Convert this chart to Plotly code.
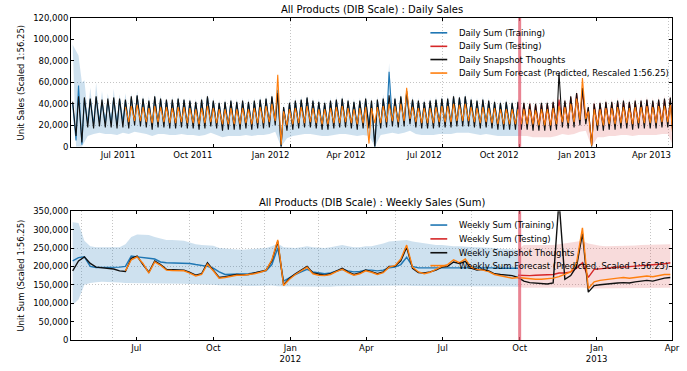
import pandas as pd
import plotly.graph_objects as go

# ---------------- texts / axes ----------------
first_saturday = "2011-04-16"
split_date = "2012-10-01"
split_week = 76
forecast_first_week = 9
x_start, x_end = "2011-04-14", "2013-04-01"

top_title = "All Products (DIB Scale) : Daily Sales"
bottom_title = "All Products (DIB Scale) : Weekly Sales (Sum)"
top_ytitle = "Unit Sales (Scaled 1:56.25)"
bottom_ytitle = "Unit Sum (Scaled 1:56.25)"
daily_names = ["Daily Sum (Training)", "Daily Sum (Testing)", "Daily Snapshot Thoughts",
               "Daily Sum Forecast (Predicted, Rescaled 1:56.25)"]
weekly_names = ["Weekly Sum (Training)", "Weekly Sum (Testing)", "Weekly Snapshot Thoughts",
                "Weekly Sum Forecast (Predicted, Scaled 1:56.25)"]

tick_dates = ["2011-07-01", "2011-10-01", "2012-01-01", "2012-04-01",
              "2012-07-01", "2012-10-01", "2013-01-01", "2013-04-01"]
top_tick_text = ["Jul 2011", "Oct 2011", "Jan 2012", "Apr 2012",
                 "Jul 2012", "Oct 2012", "Jan 2013", "Apr 2013"]
bottom_tick_text = ["Jul", "Oct", "Jan<br>2012", "Apr", "Jul", "Oct", "Jan<br>2013", "Apr"]
top_y_ticks = [0, 20000, 40000, 60000, 80000, 100000, 120000]
bottom_y_ticks = [0, 50000, 100000, 150000, 200000, 250000, 300000, 350000]
top_grid_dates = ["2012-01-01", "2012-07-01", "2013-03-28"]
bottom_grid_dates = ["2011-04-27", "2011-06-02", "2011-09-02", "2011-11-04", "2011-12-01",
                     "2012-02-04", "2012-05-06", "2012-08-05", "2013-03-06"]
top_grid_y = [20000, 40000, 60000]
bottom_grid_y = [150000, 200000, 250000]

# ---------------- daily data (thousands; weekly peak on Sat, trough on Wed) ----------------
daily_actual_peak = [
    40, 57, 45, 44, 46, 42, 43, 45, 44, 43,
    45, 47, 44, 42, 46, 44, 43, 42, 44, 43,
    42, 41, 43, 46, 42, 40, 41, 42, 41, 42,
    41, 42, 43, 44, 46, 53, 36, 40, 42, 43,
    45, 42, 41, 40, 42, 43, 44, 42, 41, 42,
    44, 42, 43, 44, 70, 44, 46, 50, 43, 42,
    41, 42, 43, 44, 44, 46, 45, 46, 43, 42,
    43, 42, 41, 40, 41, 40, 41, 40, 40, 39,
    40, 40, 41, 44, 42, 46, 50, 52, 36, 40,
    40, 41, 41, 42, 42, 41, 42, 42, 43, 42,
    43, 44, 45]
daily_actual_trough = [
    6, 2, 22, 21, 23, 22, 22, 21, 23, 22,
    24, 23, 22, 20, 22, 22, 21, 21, 22, 21,
    21, 20, 21, 23, 21, 19, 20, 20, 20, 21,
    20, 21, 21, 22, 24, 0, 18, 20, 21, 22,
    22, 21, 20, 20, 21, 22, 22, 21, 20, 21,
    20, 0, 21, 22, 23, 22, 23, 25, 22, 21,
    21, 21, 22, 22, 22, 23, 23, 23, 22, 21,
    22, 21, 20, 20, 20, 20, 20, 20, 19, 19,
    19, 19, 20, 22, 21, 22, 24, 25, 2, 19,
    19, 20, 20, 21, 21, 20, 21, 21, 21, 21,
    22, 22, 2]
daily_snapshot_peak = [
    42, 47, 46, 45, 47, 44, 45, 46, 45, 44,
    47, 48, 45, 43, 47, 45, 44, 44, 45, 44,
    43, 42, 44, 47, 43, 41, 42, 43, 42, 43,
    42, 43, 44, 45, 47, 50, 37, 41, 43, 44,
    46, 43, 42, 41, 43, 44, 45, 43, 42, 43,
    45, 43, 44, 45, 48, 45, 47, 52, 44, 43,
    42, 43, 44, 45, 45, 47, 46, 47, 44, 43,
    44, 43, 42, 41, 42, 41, 42, 41, 40, 40,
    41, 41, 42, 69, 43, 47, 50, 55, 37, 40,
    41, 42, 42, 43, 43, 42, 43, 43, 44, 43,
    44, 45, 46]
daily_snapshot_trough = [
    10, 4, 18, 17, 19, 18, 18, 17, 18, 17,
    20, 19, 18, 16, 18, 18, 17, 17, 18, 17,
    17, 16, 17, 19, 17, 15, 16, 16, 16, 17,
    16, 17, 17, 18, 20, 0, 15, 16, 17, 18,
    18, 17, 16, 16, 17, 18, 18, 17, 16, 17,
    17, 0, 17, 18, 19, 18, 19, 21, 18, 17,
    17, 17, 18, 18, 18, 19, 19, 19, 18, 17,
    18, 17, 16, 16, 16, 16, 16, 16, 15, 15,
    15, 15, 16, 18, 17, 18, 20, 21, 0, 15,
    15, 16, 16, 17, 17, 16, 17, 17, 17, 17,
    18, 18, 0]
daily_forecast_peak = [
    37,
    38, 39, 37, 36, 38, 37, 37, 36, 37, 37,
    36, 35, 36, 38, 36, 35, 35, 36, 35, 36,
    35, 36, 37, 38, 40, 67, 33, 35, 36, 37,
    38, 36, 35, 35, 36, 37, 38, 36, 35, 36,
    37, 36, 37, 38, 40, 38, 40, 55, 37, 36,
    36, 36, 37, 38, 38, 40, 39, 40, 37, 36,
    37, 36, 36, 35, 35, 35, 35, 35, 35, 34,
    35, 35, 36, 38, 37, 40, 45, 64, 33, 35,
    35, 36, 36, 37, 37, 36, 37, 37, 38, 37,
    38, 38, 39]
daily_forecast_trough = [
    23,
    24, 24, 23, 22, 23, 23, 22, 22, 23, 22,
    22, 21, 22, 23, 22, 21, 21, 21, 21, 22,
    21, 22, 22, 23, 24, 2, 20, 21, 22, 22,
    23, 22, 21, 21, 22, 22, 23, 22, 21, 22,
    3, 22, 22, 23, 24, 23, 24, 26, 23, 22,
    22, 22, 23, 23, 23, 24, 24, 24, 23, 22,
    23, 22, 21, 21, 21, 21, 21, 21, 21, 20,
    20, 20, 21, 23, 22, 23, 25, 26, 1, 20,
    20, 21, 21, 22, 22, 21, 22, 22, 22, 22,
    23, 23, 0]
daily_band_high_peak = [
    95, 85, 62, 55, 60, 52, 50, 54, 49, 50,
    50, 52, 48, 47, 50, 48, 46, 47, 48, 46,
    46, 45, 47, 50, 46, 44, 45, 46, 45, 46,
    45, 46, 47, 48, 50, 58, 40, 44, 46, 47,
    49, 46, 45, 44, 46, 47, 48, 46, 45, 46,
    48, 46, 47, 49, 78, 48, 50, 55, 47, 46,
    45, 46, 47, 48, 48, 50, 49, 50, 47, 46,
    47, 46, 45, 44, 45, 44, 45, 44, 44, 43,
    44, 44, 45, 48, 46, 50, 54, 56, 40, 44,
    44, 45, 45, 46, 46, 45, 46, 46, 47, 46,
    47, 48, 49]
daily_band_high_trough = [
    90, 60, 30, 27, 28, 27, 27, 26, 28, 27,
    29, 28, 27, 25, 27, 27, 26, 26, 27, 26,
    26, 25, 26, 28, 26, 24, 25, 25, 25, 26,
    25, 26, 26, 27, 29, 8, 23, 25, 26, 27,
    27, 26, 25, 25, 26, 27, 27, 26, 25, 26,
    25, 6, 26, 27, 28, 27, 28, 30, 27, 26,
    26, 26, 27, 27, 27, 28, 28, 28, 27, 26,
    27, 26, 25, 25, 25, 25, 25, 25, 24, 24,
    24, 24, 25, 27, 26, 27, 29, 30, 8, 24,
    24, 25, 25, 26, 26, 25, 26, 26, 26, 26,
    27, 27, 8]
daily_band_low = [
    0, 0, 10, 12, 13, 12, 12, 11, 13, 12,
    14, 13, 12, 10, 12, 12, 11, 11, 12, 11,
    11, 10, 11, 13, 11, 9, 10, 10, 10, 11,
    10, 11, 11, 12, 14, 0, 8, 10, 11, 12,
    12, 11, 10, 10, 11, 12, 12, 11, 10, 11,
    10, 0, 11, 12, 13, 12, 13, 15, 12, 11,
    11, 11, 12, 12, 12, 13, 13, 13, 12, 11,
    12, 11, 10, 10, 10, 10, 10, 10, 9, 9,
    9, 9, 10, 12, 11, 12, 14, 15, 0, 9,
    9, 10, 10, 11, 11, 10, 11, 11, 11, 11,
    12, 12, 0]

# ---------------- weekly data (thousands) ----------------
weekly_train = [
    215, 224, 226, 200, 197, 197, 197, 197, 198, 200,
    228, 226, 223, 222, 220, 212, 210, 210, 210, 210,
    208, 205, 203, 200, 195, 185, 178, 178, 178, 178,
    180, 182, 185, 188, 205, 250, 160, 170, 178, 185,
    192, 185, 182, 180, 182, 188, 192, 188, 185, 186,
    190, 190, 188, 190, 196, 198, 205, 225, 200, 196,
    196, 196, 196, 196, 197, 198, 198, 198, 196, 196,
    196, 196, 196, 195, 195, 195, 195]
weekly_test = [
    176, 175, 175, 176, 177, 178, 178, 182, 182, 185,
    195, 210, 170, 192, 194, 196, 197, 198, 198, 200,
    200, 202, 203, 204, 205, 207, 210]
weekly_snapshot = [
    188, 215, 226, 208, 198, 196, 194, 193, 188, 186,
    222, 228, 205, 184, 215, 205, 192, 191, 190, 190,
    184, 176, 180, 210, 190, 170, 172, 176, 178, 177,
    178, 182, 185, 190, 215, 268, 150, 168, 180, 190,
    200, 182, 178, 176, 180, 188, 195, 185, 178, 182,
    190, 186, 180, 185, 200, 200, 215, 252, 195, 183,
    182, 185, 190, 198, 200, 212, 208, 214, 195, 190,
    192, 188, 180, 178, 176, 175, 170, 160, 156, 154,
    152, 152, 155, 380, 165, 175, 200, 290, 130, 148,
    150, 152, 155, 155, 156, 155, 158, 160, 162, 160,
    165, 168, 170]
weekly_forecast = [
    188,
    218, 226, 208, 182, 212, 203, 190, 189, 188, 188,
    182, 174, 178, 206, 188, 168, 170, 174, 176, 176,
    177, 180, 184, 189, 218, 272, 148, 165, 178, 188,
    198, 180, 176, 175, 178, 186, 192, 183, 176, 180,
    188, 184, 178, 183, 198, 202, 220, 258, 198, 185,
    180, 184, 192, 200, 205, 218, 210, 220, 198, 192,
    190, 186, 178, 174, 170, 168, 170, 168, 166, 165,
    165, 166, 168, 172, 178, 185, 210, 305, 140, 158,
    162, 165, 166, 168, 170, 168, 170, 172, 174, 172,
    176, 178, 178]
weekly_band_high = [
    320, 318, 270, 255, 252, 252, 250, 250, 252, 260,
    280, 287, 287, 285, 280, 275, 272, 272, 272, 270,
    265, 260, 258, 258, 256, 250, 248, 247, 246, 245,
    246, 247, 248, 250, 255, 262, 252, 250, 250, 252,
    255, 252, 250, 250, 252, 255, 258, 255, 252, 252,
    255, 255, 258, 262, 268, 270, 270, 272, 268, 265,
    262, 260, 258, 258, 256, 255, 255, 255, 253, 252,
    252, 250, 250, 248, 247, 246, 245, 258, 258, 258,
    257, 257, 258, 260, 262, 265, 268, 270, 262, 258,
    256, 255, 255, 256, 256, 257, 257, 258, 258, 258,
    259, 259, 260]
weekly_band_low = [
    95, 110, 150, 155, 157, 158, 158, 157, 156, 155,
    154, 153, 153, 154, 155, 155, 154, 154, 153, 153,
    152, 151, 150, 150, 150, 149, 148, 148, 147, 147,
    147, 147, 147, 147, 148, 146, 144, 144, 145, 145,
    146, 146, 146, 145, 145, 146, 146, 146, 146, 146,
    146, 146, 147, 147, 148, 148, 148, 148, 147, 147,
    146, 146, 146, 146, 146, 146, 146, 146, 146, 145,
    145, 145, 145, 145, 145, 145, 145, 142, 142, 142,
    142, 142, 142, 142, 142, 143, 143, 143, 140, 140,
    141, 141, 141, 141, 142, 142, 142, 142, 142, 142,
    142, 142, 142]

# ---------------- build ----------------
K = 1000
BLUE, RED, BLACK, ORANGE = "#1f77b4", "#d62728", "#111111", "#ff7f0e"
BAND_BLUE, BAND_PINK = "rgba(31,119,180,0.22)", "rgba(214,39,40,0.17)"
FONT = "DejaVu Sans"

n = len(weekly_snapshot)
sat = list(pd.date_range(first_saturday, periods=n, freq="7D"))
wed = [d + pd.Timedelta(days=4) for d in sat]


def zig(peaks, troughs, w0):
    xs, ys = [], []
    for k, (p, t) in enumerate(zip(peaks, troughs)):
        xs += [sat[w0 + k], wed[w0 + k]]
        ys += [p * K, t * K]
    return xs, ys


def daily_band(a, b):
    ux, uy = zig(daily_band_high_peak[a:b + 1], daily_band_high_trough[a:b + 1], a)
    lx = wed[a:b + 1][::-1]
    ly = [v * K for v in daily_band_low[a:b + 1]][::-1]
    return ux + lx, uy + ly


def weekly_band(a, b):
    x = sat[a:b + 1] + sat[a:b + 1][::-1]
    y = [v * K for v in weekly_band_high[a:b + 1]] + [v * K for v in weekly_band_low[a:b + 1]][::-1]
    return x, y


fig = go.Figure()
last = n - 1

# bands
for (a, b), col in [((0, split_week), BAND_BLUE), ((split_week, last), BAND_PINK)]:
    bx, by = daily_band(a, b)
    fig.add_trace(go.Scatter(x=bx, y=by, fill="toself", fillcolor=col, mode="lines",
                             line=dict(width=0), hoverinfo="skip", showlegend=False,
                             xaxis="x", yaxis="y"))
    wx, wy = weekly_band(a, b)
    fig.add_trace(go.Scatter(x=wx, y=wy, fill="toself", fillcolor=col, mode="lines",
                             line=dict(width=0), hoverinfo="skip", showlegend=False,
                             xaxis="x2", yaxis="y2"))

# daily lines
ax, ay = zig(daily_actual_peak, daily_actual_trough, 0)
cut = 2 * split_week
sx, sy = zig(daily_snapshot_peak, daily_snapshot_trough, 0)
fx, fy = zig(daily_forecast_peak, daily_forecast_trough, forecast_first_week)
colors = [BLUE, RED, BLACK, ORANGE]
for x, y, c in [(ax[:cut + 1], ay[:cut + 1], BLUE), (ax[cut:], ay[cut:], RED),
                (sx, sy, BLACK), (fx, fy, ORANGE)]:
    fig.add_trace(go.Scatter(x=x, y=y, mode="lines", line=dict(color=c, width=1.1),
                             xaxis="x", yaxis="y", showlegend=False))

# weekly lines
for x, y, c in [(sat[:split_week + 1], [v * K for v in weekly_train], BLUE),
                (sat[split_week:], [v * K for v in weekly_test], RED),
                (sat, [v * K for v in weekly_snapshot], BLACK),
                (sat[forecast_first_week:], [v * K for v in weekly_forecast], ORANGE)]:
    fig.add_trace(go.Scatter(x=x, y=y, mode="lines", line=dict(color=c, width=1.4),
                             xaxis="x2", yaxis="y2", showlegend=False))

# split lines
for xr, yr in [("x", "y domain"), ("x2", "y2 domain")]:
    fig.add_shape(type="line", xref=xr, yref=yr, x0=split_date, x1=split_date, y0=0, y1=1,
                  line=dict(color="rgba(226,90,110,0.75)", width=3))

# compact legends (matplotlib-like spacing)
legend_line_x = (0.598, 0.626)
legend_text_x = 0.642
legend_rows = {"top": [0.954, 0.912, 0.871, 0.829], "bottom": [0.357, 0.314, 0.271, 0.231]}
annotations = []
for key, names in [("top", daily_names), ("bottom", weekly_names)]:
    for yy, name, c in zip(legend_rows[key], names, colors):
        fig.add_shape(type="line", xref="paper", yref="paper", x0=legend_line_x[0],
                      x1=legend_line_x[1], y0=yy, y1=yy, line=dict(color=c, width=1.6))
        annotations.append(dict(text=name, xref="paper", yref="paper", x=legend_text_x, y=yy,
                                xanchor="left", yanchor="middle", showarrow=False,
                                font=dict(size=8.5, family=FONT, color="black")))

annotations += [
    dict(text=top_title, xref="paper", yref="paper", x=0.5, y=1.0, xanchor="center",
         yanchor="bottom", showarrow=False, font=dict(size=10, family=FONT), yshift=1),
    dict(text=bottom_title, xref="paper", yref="paper", x=0.5, y=0.4, xanchor="center",
         yanchor="bottom", showarrow=False, font=dict(size=10, family=FONT), yshift=1),
    dict(text=top_ytitle, xref="paper", yref="paper", x=0, y=0.8, xanchor="center",
         yanchor="middle", textangle=-90, showarrow=False, xshift=-50,
         font=dict(size=8.5, family=FONT)),
    dict(text=bottom_ytitle, xref="paper", yref="paper", x=0, y=0.2, xanchor="center",
         yanchor="middle", textangle=-90, showarrow=False, xshift=-50,
         font=dict(size=8.5, family=FONT)),
]

axis_common = dict(showline=True, linecolor="black", linewidth=1, mirror="ticks",
                   ticks="inside", ticklen=3, tickcolor="black", showgrid=False, zeroline=False,
                   tickfont=dict(size=8.5, family=FONT, color="black"))
minor_grid = dict(showgrid=True, griddash="1px,2px", gridcolor="#c4c4c4", gridwidth=1, ticks="")

fig.update_layout(
    width=687, height=371,
    margin=dict(l=71, r=7, t=18, b=28),
    paper_bgcolor="white", plot_bgcolor="white",
    font=dict(family=FONT, size=9, color="black"),
    showlegend=False,
    xaxis=dict(domain=[0, 1], anchor="y", type="date", range=[x_start, x_end],
               tickmode="array", tickvals=tick_dates, ticktext=top_tick_text,
               ticklabelposition="outside left",
               minor=dict(tickmode="array", tickvals=top_grid_dates, **minor_grid), **axis_common),
    yaxis=dict(domain=[0.6, 1], anchor="x", range=[0, 120000], tickmode="array",
               tickvals=top_y_ticks, tickformat=",d",
               minor=dict(tickmode="array", tickvals=top_grid_y, **minor_grid), **axis_common),
    xaxis2=dict(domain=[0, 1], anchor="y2", type="date", range=[x_start, x_end],
                tickmode="array", tickvals=tick_dates, ticktext=bottom_tick_text,
                minor=dict(tickmode="array", tickvals=bottom_grid_dates, **minor_grid), **axis_common),
    yaxis2=dict(domain=[0, 0.4], anchor="x2", range=[0, 350000], tickmode="array",
                tickvals=bottom_y_ticks, tickformat=",d",
                minor=dict(tickmode="array", tickvals=bottom_grid_y, **minor_grid), **axis_common),
    annotations=annotations,
)

fig.write_html("out.html")
